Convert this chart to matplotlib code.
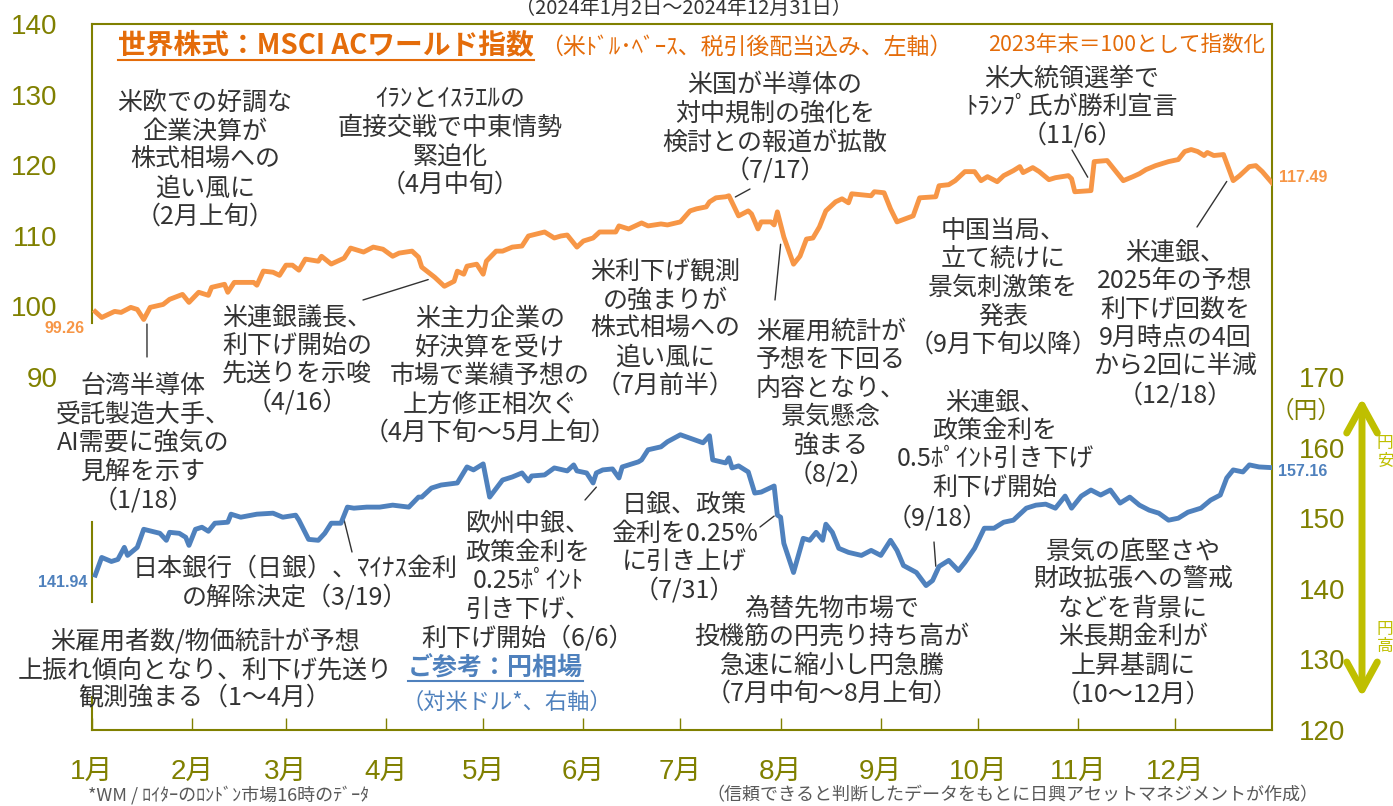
import pandas as pd
import matplotlib.pyplot as plt
from matplotlib.lines import Line2D

plt.rcParams['font.family'] = ['Noto Sans CJK JP', 'DejaVu Sans']

W, H = 1393, 806


def fx(x):
    return x / W


def fy(y):
    return 1 - y / H


# MSCI AC World (USD, net dividends), end-2023 = 100; days counted from 2024-01-01
orange_days = [1, 3, 7, 9, 12, 14, 16, 18, 22, 24,
               28, 30, 33, 36, 37, 41, 42, 44, 50, 51,
               53, 56, 58, 60, 62, 64, 66, 70, 71, 74,
               78, 80, 84, 87, 90, 93, 95, 99, 101, 102,
               106, 109, 112, 113, 115, 116, 119, 121, 122, 125,
               127, 130, 133, 135, 140, 143, 145, 147, 150, 152,
               155, 157, 162, 163, 166, 170, 172, 176, 178, 182,
               185, 187, 190, 191, 193, 196, 197, 200, 203, 204,
               206, 207, 210, 211, 212, 214, 217, 219, 221, 223,
               225, 227, 230, 232, 234, 235, 238, 241, 242, 245,
               247, 249, 254, 256, 261, 262, 265, 267, 270, 273,
               275, 277, 280, 282, 285, 287, 288, 291, 293, 296,
               298, 302, 303, 304, 308, 309, 310, 314, 316, 319,
               322, 324, 326, 329, 333, 336, 338, 340, 342, 344,
               345, 347, 350, 353, 355, 358, 360, 362, 365]
orange_vals = [99.26, 98.43, 99.29, 99.15, 99.86, 99.57, 98.15, 99.86, 100.28, 101.0,
               101.7, 100.57, 102.0, 101.57, 102.7, 103.13, 102.0, 103.4, 103.4, 103.0,
               105.0, 104.84, 104.4, 105.84, 105.84, 105.13, 106.7, 106.4, 107.1, 106.0,
               106.84, 108.26, 107.7, 108.4, 108.1, 107.1, 107.55, 107.83, 106.98, 105.56,
               104.13, 102.85, 103.56, 104.99, 104.56, 105.7, 105.98, 104.56, 106.41, 107.83,
               107.83, 108.4, 108.55, 109.97, 110.54, 109.69, 109.97, 110.11, 108.4, 109.26,
               109.69, 110.54, 110.54, 111.4, 110.97, 111.82, 111.4, 111.68, 111.54, 111.97,
               113.53, 113.82, 114.1, 114.8, 115.38, 115.53, 115.67, 112.82, 113.53, 113.1,
               110.97, 111.97, 111.97, 111.54, 113.39, 109.83, 105.98, 107.12, 109.54, 109.69,
               111.25, 113.53, 114.81, 115.24, 114.67, 115.95, 115.81, 115.67, 116.24, 116.1,
               113.82, 111.97, 112.82, 115.38, 115.53, 117.09, 117.24, 117.81, 119.09, 119.09,
               117.81, 118.38, 117.66, 118.52, 119.23, 119.8, 118.95, 119.66, 119.09, 117.95,
               118.23, 118.52, 118.09, 116.24, 116.38, 116.4, 120.51, 120.66, 119.52, 117.81,
               118.38, 118.8, 119.37, 119.94, 120.51, 120.8, 121.94, 122.22, 121.94, 121.37,
               121.8, 121.37, 121.51, 117.81, 118.52, 119.8, 119.94, 119.09, 117.49]

# USD/JPY (yen per dollar)
blue_days = [1, 3, 6, 8, 10, 11, 14, 16, 21, 23,
             24, 27, 29, 30, 32, 34, 36, 38, 42, 43,
             46, 51, 56, 59, 63, 64, 67, 70, 72, 74,
             77, 79, 81, 85, 89, 93, 98, 101, 102, 105,
             108, 113, 116, 118, 121, 123, 127, 130, 133, 135,
             136, 140, 143, 147, 149, 150, 153, 155, 156, 158,
             161, 163, 164, 169, 170, 172, 176, 178, 182, 189,
             191, 192, 196, 197, 198, 200, 203, 205, 207, 211,
             212, 213, 214, 217, 220, 222, 224, 226, 227, 229,
             231, 234, 238, 241, 244, 247, 249, 251, 255, 258,
             260, 262, 265, 268, 270, 273, 276, 279, 282, 285,
             289, 292, 295, 298, 301, 303, 306, 309, 312, 315,
             318, 321, 324, 327, 330, 333, 336, 339, 343, 346,
             349, 351, 353, 356, 358, 361, 365]
blue_vals = [141.94, 144.44, 143.87, 144.16, 145.87, 144.73, 145.87, 148.43, 147.86, 146.87,
             148.0, 147.86, 147.29, 146.15, 148.43, 148.72, 148.15, 149.29, 149.43, 150.57,
             150.14, 150.57, 150.71, 150.14, 150.43, 149.72, 147.0, 146.87, 147.86, 149.29,
             149.29, 151.57, 151.42, 151.57, 151.57, 151.85, 151.57, 152.99, 152.99, 154.27,
             154.7, 154.99, 157.26, 156.84, 157.69, 152.99, 155.41, 155.84, 156.41, 155.27,
             155.98, 156.13, 157.12, 156.7, 157.55, 156.7, 156.41, 154.99, 156.41, 156.84,
             156.98, 155.7, 157.26, 157.98, 158.26, 159.69, 160.11, 160.83, 161.82, 160.68,
             161.68, 158.26, 157.83, 158.55, 157.12, 157.41, 156.55, 153.56, 153.7, 154.56,
             150.43, 150.14, 146.44, 142.31, 147.15, 146.87, 148.0, 146.87, 149.15, 148.0,
             145.73, 145.16, 144.73, 145.44, 144.73, 146.87, 145.44, 143.3, 142.31, 140.46,
             141.17, 143.16, 144.02, 142.59, 143.73, 145.73, 148.58, 148.58, 149.43, 149.72,
             151.42, 151.85, 151.99, 151.42, 153.13, 151.42, 153.13, 153.99, 153.28, 153.99,
             152.14, 152.99, 151.85, 151.14, 150.71, 149.72, 150.0, 150.85, 151.42, 152.56,
             153.28, 155.7, 156.84, 156.55, 157.55, 157.26, 157.16]

month_labels = [f'{m}月' for m in range(1, 13)]
left_ticks = [90, 100, 110, 120, 130, 140]
right_ticks = [120, 130, 140, 150, 160, 170]

orange = '#F79646'
title_orange = '#E46C0A'
blue = '#4F81BD'
olive = '#808000'
arrow_col = '#BFBF00'
txt = '#333333'
num_font = ['Liberation Sans', 'Noto Sans CJK JP']

start = pd.Timestamp('2024-01-01')
orange_dates = start + pd.to_timedelta(orange_days, unit='D')
blue_dates = start + pd.to_timedelta(blue_days, unit='D')

fig = plt.figure(figsize=(13.93, 8.06), dpi=100)
ax = fig.add_axes([fx(92), fy(730), fx(1272) - fx(92), fy(24) - fy(730)])
ax2 = ax.twinx()

ax.plot(orange_dates, orange_vals, color=orange, lw=3.5, zorder=5, solid_joinstyle='round')
ax2.plot(blue_dates, blue_vals, color=blue, lw=3.5, zorder=5, solid_joinstyle='round')

x0, x1 = start, pd.Timestamp('2024-12-31')
ax.set_xlim(x0, x1)
ax.set_ylim(40, 140)
ax2.set_ylim(120, 220)

ax.set_xticks(pd.date_range('2024-01-01', periods=12, freq='MS'))
ax.set_xticklabels(month_labels)
ax.set_yticks(left_ticks)
ax2.set_yticks(right_ticks)

ax.tick_params(axis='x', direction='in', length=9, width=1, color=olive,
               labelcolor=olive, labelsize=20, pad=21)
ax.tick_params(axis='y', length=0, labelcolor=olive, labelsize=20, pad=25)
ax2.tick_params(axis='y', length=0, labelcolor=olive, labelsize=20, pad=19)
for lbl in ax.get_xticklabels() + ax.get_yticklabels() + ax2.get_yticklabels():
    lbl.set_family(num_font)

for s in ax2.spines.values():
    s.set_visible(False)
for k in ['top', 'right', 'bottom']:
    ax.spines[k].set_color(olive)
    ax.spines[k].set_linewidth(1.5)
ax.spines['left'].set_visible(False)
# left frame edge is broken where the text boxes sit on it
for lo, hi in [(0.577, 1.0), (0.181, 0.295), (0.0, 0.047)]:
    ax.axvline(x0, lo, hi, color=olive, lw=1.5, clip_on=False)

# end values
ax.annotate(f'{orange_vals[0]:.2f}', xy=(orange_dates[0], orange_vals[0]), xytext=(-11, -17),
            textcoords='offset pixels', ha='right', va='center', color=orange,
            fontsize=11.5, fontweight='bold', family=num_font)
ax.annotate(f'{orange_vals[-1]:.2f}', xy=(orange_dates[-1], orange_vals[-1]), xytext=(7, 5),
            textcoords='offset pixels', ha='left', va='center', color=orange,
            fontsize=11.5, fontweight='bold', family=num_font, annotation_clip=False)
ax2.annotate(f'{blue_vals[0]:.2f}', xy=(blue_dates[0], blue_vals[0]), xytext=(-8, -7),
             textcoords='offset pixels', ha='right', va='center', color=blue,
             fontsize=11.5, fontweight='bold', family=num_font)
ax2.annotate(f'{blue_vals[-1]:.2f}', xy=(blue_dates[-1], blue_vals[-1]), xytext=(6, -4),
             textcoords='offset pixels', ha='left', va='center', color=blue,
             fontsize=11.5, fontweight='bold', family=num_font, annotation_clip=False)

# titles
fig.text(fx(683), fy(8), '（2024年1月2日～2024年12月31日）', ha='center', va='center',
         fontsize=14.5, color=txt)
t_main = fig.text(fx(118), fy(45), '世界株式：MSCI ACワールド指数', ha='left', va='center',
                  fontsize=20, fontweight='bold', color=title_orange)
fig.text(fx(540), fy(47), '（米ﾄﾞﾙ･ﾍﾞｰｽ、税引後配当込み、左軸）', ha='left', va='center',
         fontsize=16.5, color=title_orange)
fig.text(fx(988), fy(45), '2023年末＝100として指数化', ha='left', va='center',
         fontsize=15.5, color=title_orange)
t_ref = fig.text(fx(495), fy(668), 'ご参考：円相場', ha='center', va='center',
                 fontsize=18, fontweight='bold', color=blue)
fig.text(fx(507), fy(702), '（対米ドル*、右軸）', ha='center', va='center',
         fontsize=16, color=blue)

notes = [
    ('米欧での好調な\n企業決算が\n株式相場への\n追い風に\n（2月上旬）', 205, 157),
    ('ｲﾗﾝとｲｽﾗｴﾙの\n直接交戦で中東情勢\n緊迫化\n（4月中旬）', 450, 139),
    ('米国が半導体の\n対中規制の強化を\n検討との報道が拡散\n（7/17）', 775, 125),
    ('米大統領選挙で\nﾄﾗﾝﾌﾟ氏が勝利宣言\n（11/6）', 1072, 104),
    ('米連銀議長、\n利下げ開始の\n先送りを示唆\n（4/16）', 297, 357),
    ('米主力企業の\n好決算を受け\n市場で業績予想の\n上方修正相次ぐ\n（4月下旬～5月上旬）', 490, 373),
    ('台湾半導体\n受託製造大手、\nAI需要に強気の\n見解を示す\n（1/18）', 143, 440),
    ('米利下げ観測\nの強まりが\n株式相場への\n追い風に\n（7月前半）', 665, 326),
    ('米雇用統計が\n予想を下回る\n内容となり、\n景気懸念\n強まる\n（8/2）', 831, 400),
    ('中国当局、\n立て続けに\n景気刺激策を\n発表\n（9月下旬以降）', 1003, 285),
    ('米連銀、\n2025年の予想\n利下げ回数を\n9月時点の4回\nから2回に半減\n（12/18）', 1175, 321),
    ('米連銀、\n政策金利を\n0.5ﾎﾟｲﾝﾄ引き下げ\n利下げ開始', 995, 442),
    ('（9/18）', 937, 515),
    ('日本銀行（日銀）、ﾏｲﾅｽ金利\nの解除決定（3/19）', 295, 580),
    ('欧州中銀、\n政策金利を\n0.25ﾎﾟｲﾝﾄ\n引き下げ、\n利下げ開始（6/6）', 528, 578),
    ('日銀、政策\n金利を0.25%\nに引き上げ\n（7/31）', 684, 545),
    ('為替先物市場で\n投機筋の円売り持ち高が\n急速に縮小し円急騰\n（7月中旬～8月上旬）', 832, 648),
    ('景気の底堅さや\n財政拡張への警戒\nなどを背景に\n米長期金利が\n上昇基調に\n（10～12月）', 1133, 620),
    ('米雇用者数/物価統計が予想\n上振れ傾向となり、利下げ先送り\n観測強まる（1～4月）', 205, 667),
]
line_px = 28.5
for s, x, y in notes:
    rows = s.split('\n')
    n = len(rows)
    for i, row in enumerate(rows):
        yy = y + (i - (n - 1) / 2) * line_px
        fig.text(fx(x), fy(yy), row, ha='center', va='center_baseline', fontsize=18, color=txt)

# leader lines: (axis, event date, value on that axis, text end in pixels)
leaders = [
    (ax, '2024-01-18', 97.5, 147, 357),
    (ax, '2024-04-14', 103.8, 363, 300),
    (ax, '2024-07-18', 115.5, 750, 189),
    (ax, '2024-11-04', 118.3, 1072, 150),
    (ax, '2024-12-17', 117.7, 1197, 227),
    (ax, '2024-08-01', 108.8, 775, 300),
    (ax2, '2024-03-19', 149.7, 352, 552),
    (ax2, '2024-06-05', 154.4, 585, 500),
    (ax2, '2024-07-30', 150.3, 760, 527),
    (ax2, '2024-09-18', 143.2, 934, 542),
]
for a, d, v, x, y in leaders:
    a.annotate('', xy=(pd.Timestamp(d), v), xycoords='data',
               xytext=(fx(x), fy(y)), textcoords='figure fraction',
               arrowprops=dict(arrowstyle='-', color=txt, lw=1, shrinkA=0, shrinkB=0))

# yen axis extras
fig.text(fx(1306), fy(411), '（円）', ha='center', va='center', fontsize=17, color=olive)
ax2.annotate('', xy=(fx(1362), fy(398)), xycoords='figure fraction',
             xytext=(fx(1362), fy(697)), textcoords='figure fraction',
             arrowprops=dict(arrowstyle='<->,head_length=1.0,head_width=0.55', lw=5,
                             color=arrow_col, shrinkA=0, shrinkB=0, mutation_scale=20),
             annotation_clip=False)
fig.text(fx(1385), fy(452), '円\n安', ha='center', va='center', fontsize=12,
         color=arrow_col, linespacing=1.0)
fig.text(fx(1385), fy(638), '円\n高', ha='center', va='center', fontsize=12,
         color=arrow_col, linespacing=1.0)

# footnotes
fig.text(fx(88), fy(795), '*WM / ﾛｲﾀｰのﾛﾝﾄﾞﾝ市場16時のﾃﾞｰﾀ', ha='left', va='center',
         fontsize=13, color='#595959')
fig.text(fx(1012), fy(795), '（信頼できると判断したデータをもとに日興アセットマネジメントが作成）',
         ha='center', va='center', fontsize=13, color='#595959')

# underline the two headings
fig.canvas.draw()
for t, c in [(t_main, title_orange), (t_ref, blue)]:
    bb = t.get_window_extent()
    yl = (bb.y0 - 1) / fig.bbox.height
    fig.add_artist(Line2D([bb.x0 / fig.bbox.width, bb.x1 / fig.bbox.width], [yl, yl],
                          transform=fig.transFigure, color=c, lw=1.5))

fig.savefig('out.png', dpi=100)
